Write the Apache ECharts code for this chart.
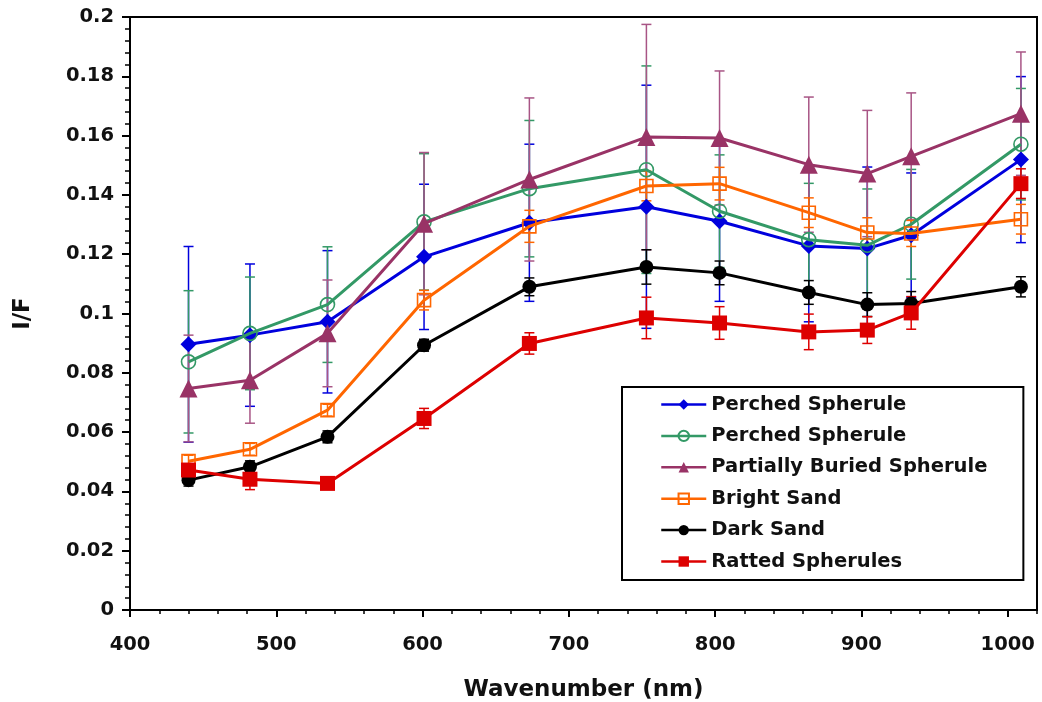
<!DOCTYPE html>
<html>
<head>
<meta charset="utf-8">
<script src="https://cdn.jsdelivr.net/npm/echarts@6/dist/echarts.min.js"></script>
<style>
html,body{margin:0;padding:0;background:#fff;}
#chart{width:1042px;height:702px;}
</style>
</head>
<body>
<div id="chart"></div>
<script>
// Wavelengths (nm)
const wavelengths = [440, 482, 535, 601, 673, 753, 803, 864, 904, 934, 1009];

// Series labels
const seriesLabels = ['Perched Spherule', 'Perched Spherule', 'Partially Buried Spherule', 'Bright Sand', 'Dark Sand', 'Ratted Spherules'];

// I/F values
const perched1 = [0.0896, 0.0927, 0.0972, 0.1191, 0.1306, 0.1360, 0.1311, 0.1228, 0.1219, 0.1264, 0.1519];
const perched2 = [0.0837, 0.0933, 0.1030, 0.1309, 0.1421, 0.1485, 0.1345, 0.1249, 0.1230, 0.1301, 0.1571];
const buried   = [0.0747, 0.0775, 0.0933, 0.1303, 0.1452, 0.1595, 0.1592, 0.1502, 0.1472, 0.1530, 0.1674];
const bright   = [0.0502, 0.0542, 0.0674, 0.1045, 0.1294, 0.1430, 0.1438, 0.1340, 0.1273, 0.1270, 0.1318];
const dark     = [0.0438, 0.0483, 0.0584, 0.0893, 0.1090, 0.1157, 0.1137, 0.1071, 0.1030, 0.1034, 0.1090];
const ratted   = [0.0472, 0.0441, 0.0427, 0.0646, 0.0899, 0.0985, 0.0968, 0.0938, 0.0944, 0.1002, 0.1438];

// Error bar half-widths
const perched1Err = [0.0330, 0.0240, 0.0240, 0.0245, 0.0265, 0.0410, 0.0270, 0.0256, 0.0275, 0.0210, 0.0280];
const perched2Err = [0.0240, 0.0190, 0.0195, 0.0230, 0.0230, 0.0350, 0.0190, 0.0190, 0.0190, 0.0185, 0.0188];
const buriedErr   = [0.0180, 0.0145, 0.0180, 0.0240, 0.0275, 0.0380, 0.0226, 0.0228, 0.0213, 0.0214, 0.0208];
const brightErr   = [0.0020, 0.0020, 0.0020, 0.0033, 0.0054, 0.0050, 0.0055, 0.0050, 0.0050, 0.0044, 0.0050];
const darkErr     = [0.0020, 0.0020, 0.0020, 0.0020, 0.0030, 0.0058, 0.0040, 0.0040, 0.0040, 0.0040, 0.0034];
const rattedErr   = [0.0020, 0.0035, 0.0010, 0.0034, 0.0036, 0.0070, 0.0055, 0.0060, 0.0045, 0.0055, 0.0050];

const valuesList = [perched1, perched2, buried, bright, dark, ratted];
const errList = [perched1Err, perched2Err, buriedErr, brightErr, darkErr, rattedErr];

const colors = ['#0000dd', '#339966', '#993366', '#ff6600', '#000000', '#dd0000'];
const errColors = ['#0000dd', '#339966', '#a85585', '#ff6600', '#000000', '#dd0000'];
const symbols = ['diamond', 'circle', 'triangle', 'rect', 'circle', 'rect'];
const symbolSizes = [16, 14, 18, 13, 14, 15];
const hollow = [false, true, false, true, false, false];

// unique internal names (legend shows label via formatter)
const names = seriesLabels.map((l, i) => l + '#' + i);

const FONT = 'DejaVu Sans';

const series = [];
valuesList.forEach((vals, i) => {
  series.push({
    type: 'custom',
    name: 'err' + i,
    xAxisIndex: 0, yAxisIndex: 0,
    z: 1,
    silent: true,
    data: wavelengths.map((w, k) => [w, vals[k], errList[i][k]]),
    encode: { x: 0, y: 1 },
    renderItem: function (params, api) {
      const x = api.value(0), y = api.value(1), e = api.value(2);
      const top = api.coord([x, y + e]);
      const bot = api.coord([x, y - e]);
      const hw = 5;
      const st = { stroke: errColors[i], lineWidth: 1.5 };
      return {
        type: 'group',
        children: [
          { type: 'line', shape: { x1: top[0], y1: top[1], x2: bot[0], y2: bot[1] }, style: st },
          { type: 'line', shape: { x1: top[0] - hw, y1: top[1], x2: top[0] + hw, y2: top[1] }, style: st },
          { type: 'line', shape: { x1: bot[0] - hw, y1: bot[1], x2: bot[0] + hw, y2: bot[1] }, style: st }
        ]
      };
    }
  });
});
valuesList.forEach((vals, i) => {
  series.push({
    type: 'line',
    name: names[i],
    xAxisIndex: 0, yAxisIndex: 0,
    z: 2 + i,
    data: wavelengths.map((w, k) => [w, vals[k]]),
    symbol: symbols[i],
    symbolSize: symbolSizes[i],
    showAllSymbol: true,
    animation: false,
    lineStyle: { color: colors[i], width: 3 },
    itemStyle: hollow[i]
      ? { color: 'rgba(255,255,255,0)', borderColor: colors[i], borderWidth: 1.6 }
      : { color: colors[i], borderWidth: 0 }
  });
});

const chart = echarts.init(document.getElementById('chart'), null, { renderer: 'canvas' });
chart.setOption({
  animation: false,
  backgroundColor: '#ffffff',
  textStyle: { fontFamily: FONT },
  grid: {
    left: 130, right: 5, top: 17, bottom: 92,
    containLabel: false, outerBoundsMode: 'none',
    show: true, borderColor: '#000', borderWidth: 2, backgroundColor: 'transparent'
  },
  legend: {
    data: names,
    orient: 'vertical',
    left: 622, top: 387,
    padding: [7, 36, 8, 38],
    itemWidth: 45, itemHeight: 13, itemGap: 10.4,
    borderColor: '#000', borderWidth: 2,
    backgroundColor: '#fff',
    lineStyle: { width: 2.5 },
    formatter: n => n.replace(/#\d+$/, ''),
    textStyle: { fontFamily: FONT, fontWeight: 'bold', fontSize: 19.5, color: '#111', lineHeight: 21 }
  },
  xAxis: [
    {
      type: 'value', min: 400, max: 1020, interval: 100,
      name: 'Wavenumber (nm)', nameLocation: 'middle', nameGap: 69,
      nameTextStyle: { fontFamily: FONT, fontWeight: 'bold', fontSize: 23, color: '#111' },
      axisLine: { show: true, lineStyle: { color: '#000', width: 2 } },
      axisTick: { show: true, length: 7, lineStyle: { color: '#000', width: 2 } },
      axisLabel: {
        showMaxLabel: false, margin: 25, fontFamily: FONT, fontWeight: 'bold', fontSize: 19.5, color: '#111',
        formatter: v => String(v)
      },
      splitLine: { show: false }
    },
    {
      type: 'value', min: 400, max: 1020, interval: 20, position: 'bottom',
      axisLine: { show: false },
      axisTick: { show: true, length: 4, lineStyle: { color: '#000', width: 1.5 } },
      axisLabel: { show: false },
      splitLine: { show: false }
    }
  ],
  yAxis: {
    type: 'value', min: 0, max: 0.2, interval: 0.02,
    name: 'I/F', nameLocation: 'middle', nameGap: 95, nameRotate: 90,
    nameTextStyle: { fontFamily: FONT, fontWeight: 'bold', fontSize: 23, color: '#111' },
    axisLine: { show: true, lineStyle: { color: '#000', width: 2 } },
    axisTick: { show: true, length: 8, lineStyle: { color: '#000', width: 2 } },
    minorTick: { show: true, splitNumber: 5, length: 5, lineStyle: { color: '#000', width: 1.5 } },
    axisLabel: {
      margin: 16, fontFamily: FONT, fontWeight: 'bold', fontSize: 19.5, color: '#111',
      formatter: v => String(+v.toFixed(3))
    },
    splitLine: { show: false }
  },
  series: series
});
</script>
</body>
</html>
